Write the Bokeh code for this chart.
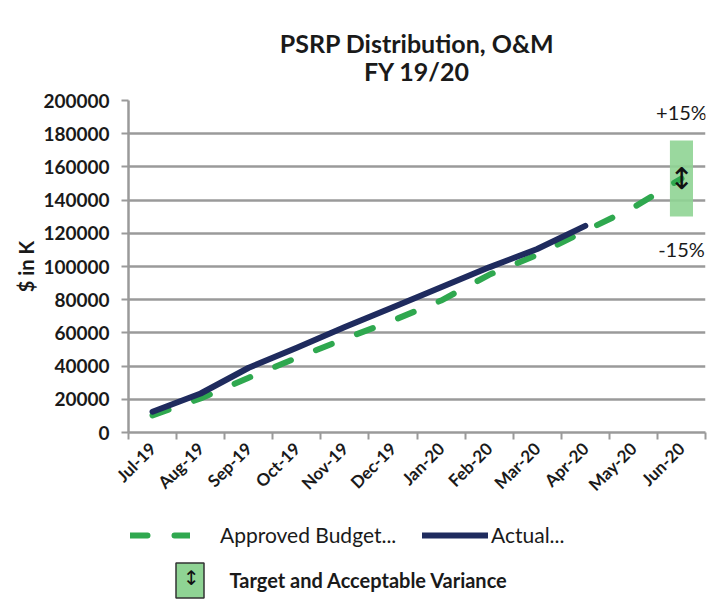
import math
from bokeh.plotting import figure
from bokeh.layouts import column
from bokeh.models import (Range1d, FixedTicker, BasicTickFormatter, Legend,
                          LegendItem, Label, ColumnDataSource)
from bokeh.core.properties import value
from bokeh.embed import file_html
from bokeh.resources import INLINE

# ---- data ----
title_lines = ["PSRP Distribution, O&M", "FY 19/20"]
months = ["Jul-19", "Aug-19", "Sep-19", "Oct-19", "Nov-19", "Dec-19",
          "Jan-20", "Feb-20", "Mar-20", "Apr-20", "May-20", "Jun-20"]
budget = [10300, 20500, 33000, 45000, 56500, 67500,
          79500, 95000, 107000, 121500, 135500, 153000]
actual = [12500, 23500, 39000, 51000, 63500, 75500,
          87500, 99500, 110500, 124500]
variance = 0.15
y_ticks = [0, 20000, 40000, 60000, 80000, 100000, 120000, 140000, 160000, 180000, 200000]

FONT = "Lato"
GREEN = "#2fa84f"
NAVY = "#1f2b5e"
BOXG = "#8fd494"
GRID = "#9a9a9a"
TXT = "#1a1a1a"

n = len(months)
xc = [i + 0.5 for i in range(n)]

W = 728
HH = 87    # header height
CH = 425   # chart height
LH = 607 - HH - CH  # legend strip height
FRAME_W = 705 - 128


def blank(height):
    f = figure(width=W, height=height, output_backend="svg", toolbar_location=None,
               x_range=Range1d(0, 1), y_range=Range1d(0, 1), min_border=0,
               x_axis_location=None, y_axis_location=None)
    f.outline_line_color = None
    f.grid.grid_line_color = None
    f.background_fill_color = "white"
    f.border_fill_color = "white"
    return f

# ---- header (title) ----
h = blank(HH)
for txt, yy in zip(title_lines, [HH - 42, HH - 70]):
    h.add_layout(Label(x=FRAME_W / 2, y=yy, x_units="screen", y_units="screen",
                       text=txt, text_font=FONT, text_font_size="25px",
                       text_font_style="bold", text_color=TXT,
                       text_align="center", text_baseline="middle"))

# ---- chart ----
p = figure(width=W, height=CH, output_backend="svg", toolbar_location=None,
           x_range=Range1d(0, n), y_range=Range1d(y_ticks[0], y_ticks[-1]),
           min_border_left=128, min_border_right=23, min_border_top=100 - HH,
           min_border_bottom=HH + CH - 432)
p.outline_line_color = None
p.background_fill_color = "white"
p.border_fill_color = "white"

p.xgrid.grid_line_color = None
p.ygrid.grid_line_color = GRID
p.ygrid.grid_line_width = 2.5
p.ygrid.ticker = FixedTicker(ticks=y_ticks)

p.yaxis.ticker = FixedTicker(ticks=y_ticks)
p.yaxis.formatter = BasicTickFormatter(use_scientific=False)
p.yaxis.axis_line_color = GRID
p.yaxis.axis_line_width = 2.5
p.yaxis.major_tick_line_color = GRID
p.yaxis.major_tick_line_width = 2
p.yaxis.major_tick_out = 7
p.yaxis.major_tick_in = 0
p.yaxis.minor_tick_line_color = None
p.yaxis.major_label_text_font = FONT
p.yaxis.major_label_text_font_size = "19px"
p.yaxis.major_label_text_font_style = "bold"
p.yaxis.major_label_text_color = TXT
p.yaxis.major_label_standoff = 12
p.yaxis.axis_label = "$ in K"
p.yaxis.axis_label_text_font = FONT
p.yaxis.axis_label_text_font_size = "20px"
p.yaxis.axis_label_text_font_style = "bold"
p.yaxis.axis_label_text_color = TXT
p.yaxis.axis_label_standoff = 2

p.xaxis.ticker = FixedTicker(ticks=xc, minor_ticks=list(range(n + 1)))
p.xaxis.major_label_overrides = {x: m for x, m in zip(xc, months)}
p.xaxis.axis_line_color = GRID
p.xaxis.axis_line_width = 2.5
p.xaxis.major_tick_line_color = None
p.xaxis.major_tick_out = 0
p.xaxis.major_tick_in = 0
p.xaxis.minor_tick_line_color = GRID
p.xaxis.minor_tick_line_width = 2
p.xaxis.minor_tick_out = 7
p.xaxis.minor_tick_in = 0
p.xaxis.major_label_orientation = math.pi / 4
p.xaxis.major_label_text_font = FONT
p.xaxis.major_label_text_font_size = "17px"
p.xaxis.major_label_text_font_style = "bold"
p.xaxis.major_label_text_color = TXT
p.xaxis.major_label_standoff = 6

target = budget[-1]
box_src = ColumnDataSource(dict(x=[xc[-1]], top=[target * (1 + variance)],
                                bottom=[target * (1 - variance)]))
p.vbar(x="x", top="top", bottom="bottom", width=0.48, source=box_src,
       fill_color=BOXG, fill_alpha=0.9, line_color=None)

p.line(xc, budget, line_color=GREEN, line_width=6, line_dash="17 27", line_cap="round")
p.line(xc[:len(actual)], actual, line_color=NAVY, line_width=6,
       line_cap="round", line_join="round")

p.text(x=[xc[-1]], y=[target], text=["↕"], text_font=value("DejaVu Sans"),
       text_font_size="30px", text_align="center", text_baseline="middle",
       text_color="#111111")
p.text(x=[xc[-1], xc[-1]], y=[193000, 110500],
       text=["+%d%%" % round(variance * 100), "-%d%%" % round(variance * 100)],
       text_font=value(FONT), text_font_size="20px", text_align="center",
       text_baseline="middle", text_color=TXT)

# ---- legend strip ----
q = blank(LH)
# legend sample renderers (their data lie outside the strip's visible range)
lb = q.line(x=[5, 6], y=[5, 6], line_color=GREEN, line_width=6, line_dash="17 27",
            line_cap="round")
la = q.line(x=[5, 6], y=[5, 6], line_color=NAVY, line_width=6, line_cap="round")
lt = q.quad(left=[5], right=[6], top=[6], bottom=[5], fill_color=BOXG,
            line_color="#333333", line_width=1.5)
lnone = q.line(x=[5, 6], y=[5, 6], line_alpha=0)

def mk_legend(label, r, loc, gw, gh, standoff, size, style, font=FONT, color=TXT):
    lg = Legend(items=[LegendItem(label=label, renderers=[r])], location=loc,
                glyph_width=gw, glyph_height=gh, label_height=gh,
                label_standoff=standoff, padding=0, margin=0, spacing=0,
                border_line_color=None, background_fill_alpha=0,
                label_text_font=font, label_text_font_size=size,
                label_text_font_style=style, label_text_color=color,
                label_text_baseline="middle")
    q.add_layout(lg, "center")

top_q = HH + CH
row1_y = LH - (537 - top_q) - 10
mk_legend("Approved Budget...", lb, (130 - 128, row1_y), 60, 20, 30, "21px", "normal")
mk_legend("Actual...", la, (422 - 128, row1_y), 66, 20, 3, "21px", "normal")
row2_c = LH - (580 - top_q)
mk_legend("Target and Acceptable Variance", lt, (171.5 - 128, row2_c - 22), 35, 44, 23,
          "20px", "bold")
# double arrow drawn on top of the legend's variance box
mk_legend("↕", lnone, (189 - 128 - 6, row2_c - 10), 0, 20, 0, "20px", "normal",
          font="DejaVu Sans", color="#111111")

layout = column(h, p, q, spacing=0)
open("out.html", "w").write(file_html(layout, INLINE))
